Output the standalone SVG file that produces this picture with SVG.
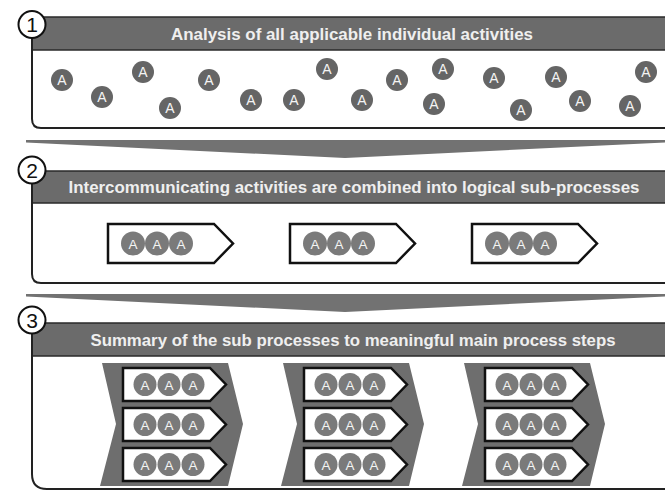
<svg xmlns="http://www.w3.org/2000/svg" width="665" height="492" viewBox="0 0 665 492">
<defs>
<style>
.hdr{fill:#6b6b6b;stroke:#2a2a2a;stroke-width:1.5}
.ht{font-family:"Liberation Sans",Arial,sans-serif;font-weight:bold;font-size:17px;fill:#efefef;text-anchor:middle}
.box{fill:none;stroke:#222;stroke-width:2}
.num{fill:#fff;stroke:#111;stroke-width:2}
.nt{font-family:"Liberation Sans",Arial,sans-serif;font-size:21px;fill:#111;text-anchor:middle}
.a1{fill:#656565}
.a2{fill:#7a7a7a}
.at{font-family:"Liberation Sans",Arial,sans-serif;font-size:14px;fill:#f4f4f4;text-anchor:middle}
.at2{font-family:"Liberation Sans",Arial,sans-serif;font-size:13.5px;fill:#f4f4f4;text-anchor:middle}
.pill{fill:#fff;stroke:#111;stroke-width:2.5;stroke-linejoin:miter}
.big{fill:#6e6e6e}
.chev{fill:#727272}
</style>
</defs>
<rect width="665" height="492" fill="#fff"/>

<g id="connectors">
<polygon class="chev" points="26,140 665,140 665,142.5 345,158 26,142.5"/>
<polygon class="chev" points="26,294 665,294 665,296.5 345,312 26,296.5"/>
</g>

<g id="step1">
<rect class="hdr" x="32" y="17" width="640" height="33"/>
<text class="ht" x="352" y="39.5" textLength="362" lengthAdjust="spacingAndGlyphs">Analysis of all applicable individual activities</text>
<path class="box" d="M32,38 V119 Q32,128 41,128 H670"/>
<circle class="num" cx="32" cy="24.5" r="13.5"/>
<text class="nt" x="32" y="32">1</text>
<g id="activities1">
<circle class="a1" cx="62" cy="80" r="11"/><text class="at" x="62" y="85">A</text>
<circle class="a1" cx="102" cy="97" r="11"/><text class="at" x="102" y="102">A</text>
<circle class="a1" cx="143" cy="72" r="11"/><text class="at" x="143" y="77">A</text>
<circle class="a1" cx="170" cy="108" r="11"/><text class="at" x="170" y="113">A</text>
<circle class="a1" cx="209" cy="80" r="11"/><text class="at" x="209" y="85">A</text>
<circle class="a1" cx="251" cy="100" r="11"/><text class="at" x="251" y="105">A</text>
<circle class="a1" cx="294" cy="100" r="11"/><text class="at" x="294" y="105">A</text>
<circle class="a1" cx="327" cy="69" r="11"/><text class="at" x="327" y="74">A</text>
<circle class="a1" cx="362" cy="100" r="11"/><text class="at" x="362" y="105">A</text>
<circle class="a1" cx="397" cy="80" r="11"/><text class="at" x="397" y="85">A</text>
<circle class="a1" cx="443" cy="69" r="11"/><text class="at" x="443" y="74">A</text>
<circle class="a1" cx="434" cy="104" r="11"/><text class="at" x="434" y="109">A</text>
<circle class="a1" cx="494" cy="78" r="11"/><text class="at" x="494" y="83">A</text>
<circle class="a1" cx="521" cy="110" r="11"/><text class="at" x="521" y="115">A</text>
<circle class="a1" cx="556" cy="77" r="11"/><text class="at" x="556" y="82">A</text>
<circle class="a1" cx="580" cy="101" r="11"/><text class="at" x="580" y="106">A</text>
<circle class="a1" cx="630" cy="106" r="11"/><text class="at" x="630" y="111">A</text>
<circle class="a1" cx="646" cy="72" r="11"/><text class="at" x="646" y="77">A</text>
</g>
</g>

<g id="step2">
<rect class="hdr" x="32" y="171" width="640" height="32"/>
<text class="ht" x="354" y="193" textLength="571" lengthAdjust="spacingAndGlyphs">Intercommunicating activities are combined into logical sub-processes</text>
<path class="box" d="M32,184 V274 Q32,283 41,283 H670"/>
<circle class="num" cx="32" cy="170" r="13.5"/>
<text class="nt" x="32" y="177.5">2</text>
<g id="sub2a" transform="translate(108,224)">
<path class="pill" d="M0,0 H106 L125,19.5 L106,39 H0 Z"/>
<circle class="a2" cx="25" cy="19.5" r="12"/><text class="at2" x="25" y="24.5">A</text>
<circle class="a2" cx="49" cy="19.5" r="12"/><text class="at2" x="49" y="24.5">A</text>
<circle class="a2" cx="73" cy="19.5" r="12"/><text class="at2" x="73" y="24.5">A</text>
</g>
<g id="sub2b" transform="translate(290,224)">
<path class="pill" d="M0,0 H106 L125,19.5 L106,39 H0 Z"/>
<circle class="a2" cx="25" cy="19.5" r="12"/><text class="at2" x="25" y="24.5">A</text>
<circle class="a2" cx="49" cy="19.5" r="12"/><text class="at2" x="49" y="24.5">A</text>
<circle class="a2" cx="73" cy="19.5" r="12"/><text class="at2" x="73" y="24.5">A</text>
</g>
<g id="sub2c" transform="translate(472,224)">
<path class="pill" d="M0,0 H106 L125,19.5 L106,39 H0 Z"/>
<circle class="a2" cx="25" cy="19.5" r="12"/><text class="at2" x="25" y="24.5">A</text>
<circle class="a2" cx="49" cy="19.5" r="12"/><text class="at2" x="49" y="24.5">A</text>
<circle class="a2" cx="73" cy="19.5" r="12"/><text class="at2" x="73" y="24.5">A</text>
</g>
</g>

<g id="step3">
<rect class="hdr" x="32" y="323" width="640" height="33"/>
<text class="ht" x="353" y="345.5" textLength="525" lengthAdjust="spacingAndGlyphs">Summary of the sub processes to meaningful main process steps</text>
<path class="box" d="M32,334 V474 Q32,489 47,489 H670"/>
<circle class="num" cx="32" cy="320" r="13.5"/>
<text class="nt" x="32" y="327.5">3</text>

<g id="main1" transform="translate(100,363)">
<path class="big" d="M2,0 H128 L143,61 L128,123 H0 L16,61 Z"/>
<g transform="translate(23,5)"><path class="pill" d="M0,0 H87 L103,16.5 L87,33 H0 Z"/><circle class="a2" cx="22" cy="16.5" r="11.5"/><text class="at2" x="22" y="21.5">A</text><circle class="a2" cx="46" cy="16.5" r="11.5"/><text class="at2" x="46" y="21.5">A</text><circle class="a2" cx="70" cy="16.5" r="11.5"/><text class="at2" x="70" y="21.5">A</text></g>
<g transform="translate(23,45)"><path class="pill" d="M0,0 H87 L103,16.5 L87,33 H0 Z"/><circle class="a2" cx="22" cy="16.5" r="11.5"/><text class="at2" x="22" y="21.5">A</text><circle class="a2" cx="46" cy="16.5" r="11.5"/><text class="at2" x="46" y="21.5">A</text><circle class="a2" cx="70" cy="16.5" r="11.5"/><text class="at2" x="70" y="21.5">A</text></g>
<g transform="translate(23,85)"><path class="pill" d="M0,0 H87 L103,16.5 L87,33 H0 Z"/><circle class="a2" cx="22" cy="16.5" r="11.5"/><text class="at2" x="22" y="21.5">A</text><circle class="a2" cx="46" cy="16.5" r="11.5"/><text class="at2" x="46" y="21.5">A</text><circle class="a2" cx="70" cy="16.5" r="11.5"/><text class="at2" x="70" y="21.5">A</text></g>
</g>
<g id="main2" transform="translate(281,363)">
<path class="big" d="M2,0 H128 L143,61 L128,123 H0 L16,61 Z"/>
<g transform="translate(23,5)"><path class="pill" d="M0,0 H87 L103,16.5 L87,33 H0 Z"/><circle class="a2" cx="22" cy="16.5" r="11.5"/><text class="at2" x="22" y="21.5">A</text><circle class="a2" cx="46" cy="16.5" r="11.5"/><text class="at2" x="46" y="21.5">A</text><circle class="a2" cx="70" cy="16.5" r="11.5"/><text class="at2" x="70" y="21.5">A</text></g>
<g transform="translate(23,45)"><path class="pill" d="M0,0 H87 L103,16.5 L87,33 H0 Z"/><circle class="a2" cx="22" cy="16.5" r="11.5"/><text class="at2" x="22" y="21.5">A</text><circle class="a2" cx="46" cy="16.5" r="11.5"/><text class="at2" x="46" y="21.5">A</text><circle class="a2" cx="70" cy="16.5" r="11.5"/><text class="at2" x="70" y="21.5">A</text></g>
<g transform="translate(23,85)"><path class="pill" d="M0,0 H87 L103,16.5 L87,33 H0 Z"/><circle class="a2" cx="22" cy="16.5" r="11.5"/><text class="at2" x="22" y="21.5">A</text><circle class="a2" cx="46" cy="16.5" r="11.5"/><text class="at2" x="46" y="21.5">A</text><circle class="a2" cx="70" cy="16.5" r="11.5"/><text class="at2" x="70" y="21.5">A</text></g>
</g>
<g id="main3" transform="translate(462,363)">
<path class="big" d="M2,0 H128 L143,61 L128,123 H0 L16,61 Z"/>
<g transform="translate(23,5)"><path class="pill" d="M0,0 H87 L103,16.5 L87,33 H0 Z"/><circle class="a2" cx="22" cy="16.5" r="11.5"/><text class="at2" x="22" y="21.5">A</text><circle class="a2" cx="46" cy="16.5" r="11.5"/><text class="at2" x="46" y="21.5">A</text><circle class="a2" cx="70" cy="16.5" r="11.5"/><text class="at2" x="70" y="21.5">A</text></g>
<g transform="translate(23,45)"><path class="pill" d="M0,0 H87 L103,16.5 L87,33 H0 Z"/><circle class="a2" cx="22" cy="16.5" r="11.5"/><text class="at2" x="22" y="21.5">A</text><circle class="a2" cx="46" cy="16.5" r="11.5"/><text class="at2" x="46" y="21.5">A</text><circle class="a2" cx="70" cy="16.5" r="11.5"/><text class="at2" x="70" y="21.5">A</text></g>
<g transform="translate(23,85)"><path class="pill" d="M0,0 H87 L103,16.5 L87,33 H0 Z"/><circle class="a2" cx="22" cy="16.5" r="11.5"/><text class="at2" x="22" y="21.5">A</text><circle class="a2" cx="46" cy="16.5" r="11.5"/><text class="at2" x="46" y="21.5">A</text><circle class="a2" cx="70" cy="16.5" r="11.5"/><text class="at2" x="70" y="21.5">A</text></g>
</g>
</g>
</svg>
